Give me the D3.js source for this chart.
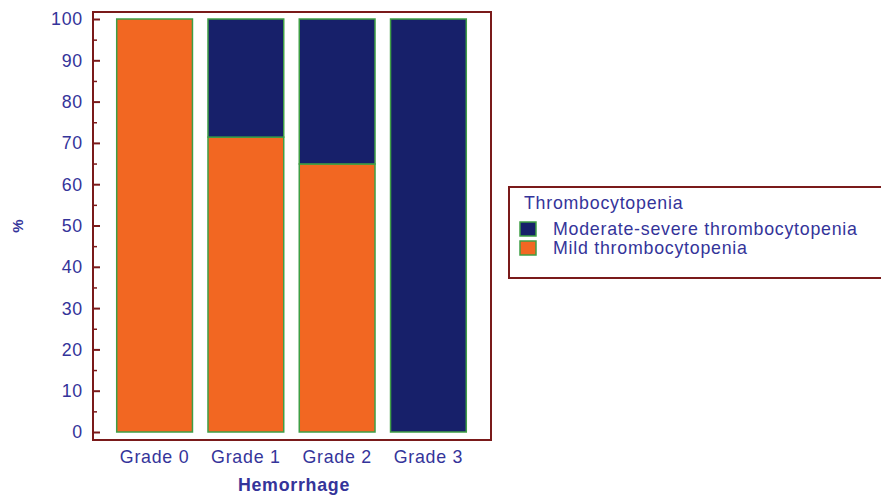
<!DOCTYPE html>
<html><head><meta charset="utf-8">
<script src="https://cdn.jsdelivr.net/npm/d3@7"></script>
<style>body{margin:0;background:#fff}svg{display:block}</style>
</head><body>
<svg id="c" width="881" height="495"></svg>
<script>
const categories = ["Grade 0","Grade 1","Grade 2","Grade 3"];
const mild = [100, 71.4, 64.9, 0];
const moderate = [0, 28.6, 35.1, 100];
const yTicks = [0,10,20,30,40,50,60,70,80,90,100];
const seriesNames = ["Moderate-severe thrombocytopenia","Mild thrombocytopenia"];
const legendTitle = "Thrombocytopenia";

const svg = d3.select("#c");
const frame = {l:93, t:12, r:491, b:440};
const y = d3.scaleLinear().domain([0,100]).range([432,19]);
const x = d3.scaleBand().domain(categories).range([108.5,474.5]).paddingInner(0.17).paddingOuter(0.09);
const textCol = "#34349a", frameCol = "#7a1a1a";
const orange = "#f26722", navy = "#17206a", green = "#3f9e45";
const FONT = "Liberation Sans, Arial, sans-serif", FS = 17.8, LS = "0.75px";

// bars
const g = svg.append("g");
categories.forEach((c,i)=>{
  g.append("rect").attr("x",x(c)).attr("width",x.bandwidth())
   .attr("y",y(mild[i])).attr("height",y(0)-y(mild[i]))
   .attr("fill",orange).attr("stroke",green).attr("stroke-width",1.5);
  if (moderate[i]>0) g.append("rect").attr("x",x(c)).attr("width",x.bandwidth())
   .attr("y",y(mild[i]+moderate[i])).attr("height",y(mild[i])-y(mild[i]+moderate[i]))
   .attr("fill",navy).attr("stroke",green).attr("stroke-width",1.5);
});

// frame
svg.append("rect").attr("x",frame.l).attr("y",frame.t).attr("width",frame.r-frame.l).attr("height",frame.b-frame.t)
  .attr("fill","none").attr("stroke",frameCol).attr("stroke-width",2);

// y ticks
const ax = svg.append("g").attr("transform",`translate(${frame.l},0)`)
  .call(d3.axisRight(y).tickValues(yTicks).tickSize(7).tickFormat(""));
ax.select(".domain").remove();
ax.selectAll("line").attr("stroke",frameCol).attr("stroke-width",2);
const minor = svg.append("g").attr("transform",`translate(${frame.l},0)`)
  .call(d3.axisRight(y).tickValues(d3.range(5,100,10)).tickSize(4).tickFormat(""));
minor.select(".domain").remove();
minor.selectAll("line").attr("stroke",frameCol).attr("stroke-width",1.5);

svg.append("g").selectAll("text").data(yTicks).join("text")
  .attr("x",83).attr("y",d=>y(d)).attr("dy","0.36em").attr("text-anchor","end")
  .attr("font-family",FONT).attr("font-size",FS).attr("letter-spacing",LS).attr("fill",textCol)
  .text(d=>d);

// x labels
svg.append("g").selectAll("text").data(categories).join("text")
  .attr("x",d=>x(d)+x.bandwidth()/2).attr("y",463).attr("text-anchor","middle")
  .attr("font-family",FONT).attr("font-size",FS).attr("letter-spacing",LS).attr("fill",textCol)
  .text(d=>d);

svg.append("text").attr("x",294).attr("y",491).attr("text-anchor","middle")
  .attr("font-family",FONT).attr("font-size",FS).attr("letter-spacing",LS).attr("font-weight","bold")
  .attr("fill",textCol).text("Hemorrhage");
svg.append("text").attr("transform","translate(23,226) rotate(-90)").attr("text-anchor","middle")
  .attr("font-family",FONT).attr("font-size",15).attr("font-weight","bold")
  .attr("fill",textCol).text("%");

// legend
const lg = svg.append("g");
lg.append("rect").attr("x",509).attr("y",187).attr("width",380).attr("height",91)
  .attr("fill","#fff").attr("stroke",frameCol).attr("stroke-width",2);
lg.append("text").attr("x",524).attr("y",209).attr("font-family",FONT)
  .attr("font-size",FS).attr("letter-spacing",LS).attr("fill",textCol).text(legendTitle);
const cols = [navy, orange];
seriesNames.forEach((n,i)=>{
  lg.append("rect").attr("x",520).attr("y",222+i*19).attr("width",16).attr("height",14)
    .attr("fill",cols[i]).attr("stroke",green).attr("stroke-width",1.5);
  lg.append("text").attr("x",553).attr("y",235+i*19).attr("font-family",FONT)
    .attr("font-size",FS).attr("letter-spacing",LS).attr("fill",textCol).text(n);
});
</script>
</body></html>
